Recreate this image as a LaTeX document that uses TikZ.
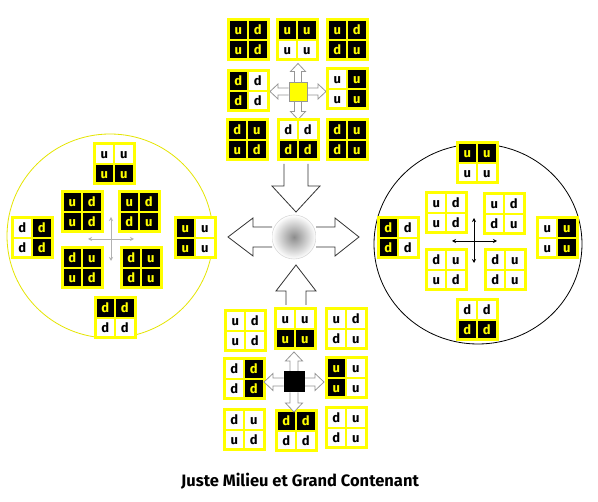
\documentclass[tikz,border=0pt]{standalone}
\usepackage{fontspec}
\setmainfont{Fira Sans}
\usetikzlibrary{arrows.meta}
\definecolor{yel}{RGB}{255,255,0}
\definecolor{arrgray}{RGB}{150,150,150}
\tikzset{
  lt/.style={font=\fontsize{13}{13}\selectfont\bfseries, anchor=base, inner sep=0pt},
  bigarrow/.style={draw=black!80, fill=white, line width=0.8pt, line join=miter},
  smallarrow/.style={draw=arrgray, fill=white, line width=0.8pt},
  circyel/.style={draw=yel!90!black, line width=0.8pt},
  circblk/.style={draw=black, line width=0.8pt},
}
% quad block: center x, center y, four cells (TL, TR, BL, BR)
\newcommand{\qb}[6]{%
  \fill[yel] (#1-21.5,#2-21.5) rectangle (#1+21.5,#2+21.5);
  \def\xa{#1-18.5}\def\xb{#1+1}\def\ya{#2-18.5}\def\yb{#2+1}%
  \def\px{\xa}\def\py{\ya}#3%
  \def\px{\xb}\def\py{\ya}#4%
  \def\px{\xa}\def\py{\yb}#5%
  \def\px{\xb}\def\py{\yb}#6%
}
\newcommand{\bc}[1]{\fill[black] (\px,\py) rectangle ++(17.5,17.5);
  \node[lt,text=yel] at (\px+8.75,\py+13.5) {#1};}
\newcommand{\wc}[1]{\fill[white] (\px,\py) rectangle ++(17.5,17.5);
  \node[lt,text=black] at (\px+8.75,\py+13.5) {#1};}
% small four-way arrows around a center
\newcommand{\fourarrows}[7]{%
  \draw[smallarrow] (#1-#6,#2-#3) -- (#1-#6,#2-#5) -- (#1-#7,#2-#5) -- (#1,#2-#4) -- (#1+#7,#2-#5) -- (#1+#6,#2-#5) -- (#1+#6,#2-#3);
  \draw[smallarrow] (#1-#6,#2+#3) -- (#1-#6,#2+#5) -- (#1-#7,#2+#5) -- (#1,#2+#4) -- (#1+#7,#2+#5) -- (#1+#6,#2+#5) -- (#1+#6,#2+#3);
  \draw[smallarrow] (#1-#3,#2-#6) -- (#1-#5,#2-#6) -- (#1-#5,#2-#7) -- (#1-#4,#2) -- (#1-#5,#2+#7) -- (#1-#5,#2+#6) -- (#1-#3,#2+#6);
  \draw[smallarrow] (#1+#3,#2-#6) -- (#1+#5,#2-#6) -- (#1+#5,#2-#7) -- (#1+#4,#2) -- (#1+#5,#2+#7) -- (#1+#5,#2+#6) -- (#1+#3,#2+#6);
}
\begin{document}
\begin{tikzpicture}[x=1pt,y=-1pt]
\useasboundingbox (0,0) rectangle (598,502);
\fill[white] (0,0) rectangle (598,502);

% ---------------- circles ----------------
\draw[circyel] (110,236) ellipse [x radius=103, y radius=102];
\draw[circblk] (478,244) ellipse [x radius=104, y radius=100];

% ---------------- top group (yellow centre) ----------------
\fourarrows{298}{91.5}{9.5}{28}{20}{3.5}{7.5}
\fill[yel] (289,82) rectangle (307,101);
\draw[arrgray, line width=0.6pt] (289,82) rectangle (307,101);
\qb{248}{40}{\bc u}{\bc d}{\bc u}{\bc d}
\qb{297}{40}{\bc u}{\bc u}{\wc u}{\wc u}
\qb{347}{40}{\bc u}{\bc d}{\bc d}{\bc u}
\qb{248}{91}{\bc d}{\wc d}{\bc d}{\wc d}
\qb{347}{89}{\wc u}{\bc u}{\wc u}{\bc u}
\qb{247}{140}{\bc d}{\bc u}{\bc u}{\bc d}
\qb{298}{140}{\wc d}{\wc d}{\bc d}{\bc d}
\qb{347}{140}{\bc d}{\bc u}{\bc d}{\bc u}

% ---------------- bottom group (black centre) ----------------
\qb{245}{331}{\wc u}{\wc d}{\wc u}{\wc d}
\qb{295}{329}{\wc u}{\wc u}{\bc u}{\bc u}
\qb{346}{329}{\wc u}{\wc d}{\wc d}{\wc u}
\qb{244}{379}{\wc d}{\bc d}{\wc d}{\bc d}
\qb{346}{378}{\bc u}{\wc u}{\bc u}{\wc u}
\qb{244}{430}{\wc d}{\wc u}{\wc u}{\wc d}
\qb{296}{431}{\bc d}{\bc d}{\wc d}{\wc d}
\qb{346}{428}{\wc d}{\wc u}{\wc d}{\wc u}
\fourarrows{294}{382}{10.5}{30}{21}{4}{8.5}
\fill[black] (283.5,371.5) rectangle (304.5,392.5);

% ---------------- left circle ----------------
\qb{114}{164}{\wc u}{\wc u}{\bc u}{\bc u}
\qb{82}{212}{\bc u}{\bc d}{\bc u}{\bc d}
\qb{139}{212}{\bc u}{\bc d}{\bc d}{\bc u}
\qb{32}{238}{\wc d}{\bc d}{\wc d}{\bc d}
\qb{195}{238}{\bc u}{\wc u}{\bc u}{\wc u}
\qb{82}{268}{\bc d}{\bc u}{\bc u}{\bc d}
\qb{141}{268}{\bc d}{\bc u}{\bc d}{\bc u}
\qb{115}{318}{\bc d}{\bc d}{\wc d}{\wc d}
\draw[black!30, line width=0.9pt, {Stealth[length=4pt,width=4pt,open]}-{Stealth[length=4pt,width=4pt,open]}] (88,239) -- (134,239);
\draw[black!30, line width=0.9pt, {Stealth[length=4pt,width=4pt,open]}-{Stealth[length=4pt,width=4pt,open]}] (111,217) -- (111,261);

% ---------------- right circle ----------------
\qb{477}{163}{\bc u}{\bc u}{\wc u}{\wc u}
\qb{446}{213}{\wc u}{\wc d}{\wc u}{\wc d}
\qb{504}{214}{\wc u}{\wc d}{\wc d}{\wc u}
\qb{398}{238}{\bc d}{\wc d}{\bc d}{\wc d}
\qb{557}{238}{\wc u}{\bc u}{\wc u}{\bc u}
\qb{446}{270}{\wc d}{\wc u}{\wc u}{\wc d}
\qb{505}{270}{\wc d}{\wc u}{\wc d}{\wc u}
\qb{477}{320}{\wc d}{\wc d}{\bc d}{\bc d}
\draw[black, line width=0.9pt, {Stealth[length=4pt,width=4pt]}-{Stealth[length=4pt,width=4pt]}] (452,241) -- (497,241);
\draw[black, line width=0.9pt, {Stealth[length=4pt,width=4pt]}-{Stealth[length=4pt,width=4pt]}] (474,218) -- (474,263);

% ---------------- centre sphere and big arrows ----------------
\shade[inner color=black!45, outer color=white] (294,237) circle (22);
\draw[black!15, line width=0.6pt] (294,237) circle (22);
\node (sphere) at (294,237) [minimum size=44pt, inner sep=0pt] {};
\draw[bigarrow] (284,164) -- (284,186) -- (272,186) -- (296,212) -- (320,186) -- (308,186) -- (308,164);
\draw[bigarrow] (286,305) -- (286,291) -- (276,291) -- (296,265) -- (316,291) -- (306,291) -- (306,305);
\draw[bigarrow] (272,227) -- (253,227) -- (253,218) -- (228,237) -- (253,256) -- (253,247) -- (272,247);
\draw[bigarrow] (316,227) -- (335,227) -- (335,218) -- (359,237) -- (335,256) -- (335,247) -- (316,247);

% ---------------- title ----------------
\node (title) at (300,487) [anchor=base, inner sep=0pt, font=\fontsize{16.5}{16.5}\selectfont\bfseries] {Juste Milieu et Grand Contenant};
\end{tikzpicture}
\end{document}
